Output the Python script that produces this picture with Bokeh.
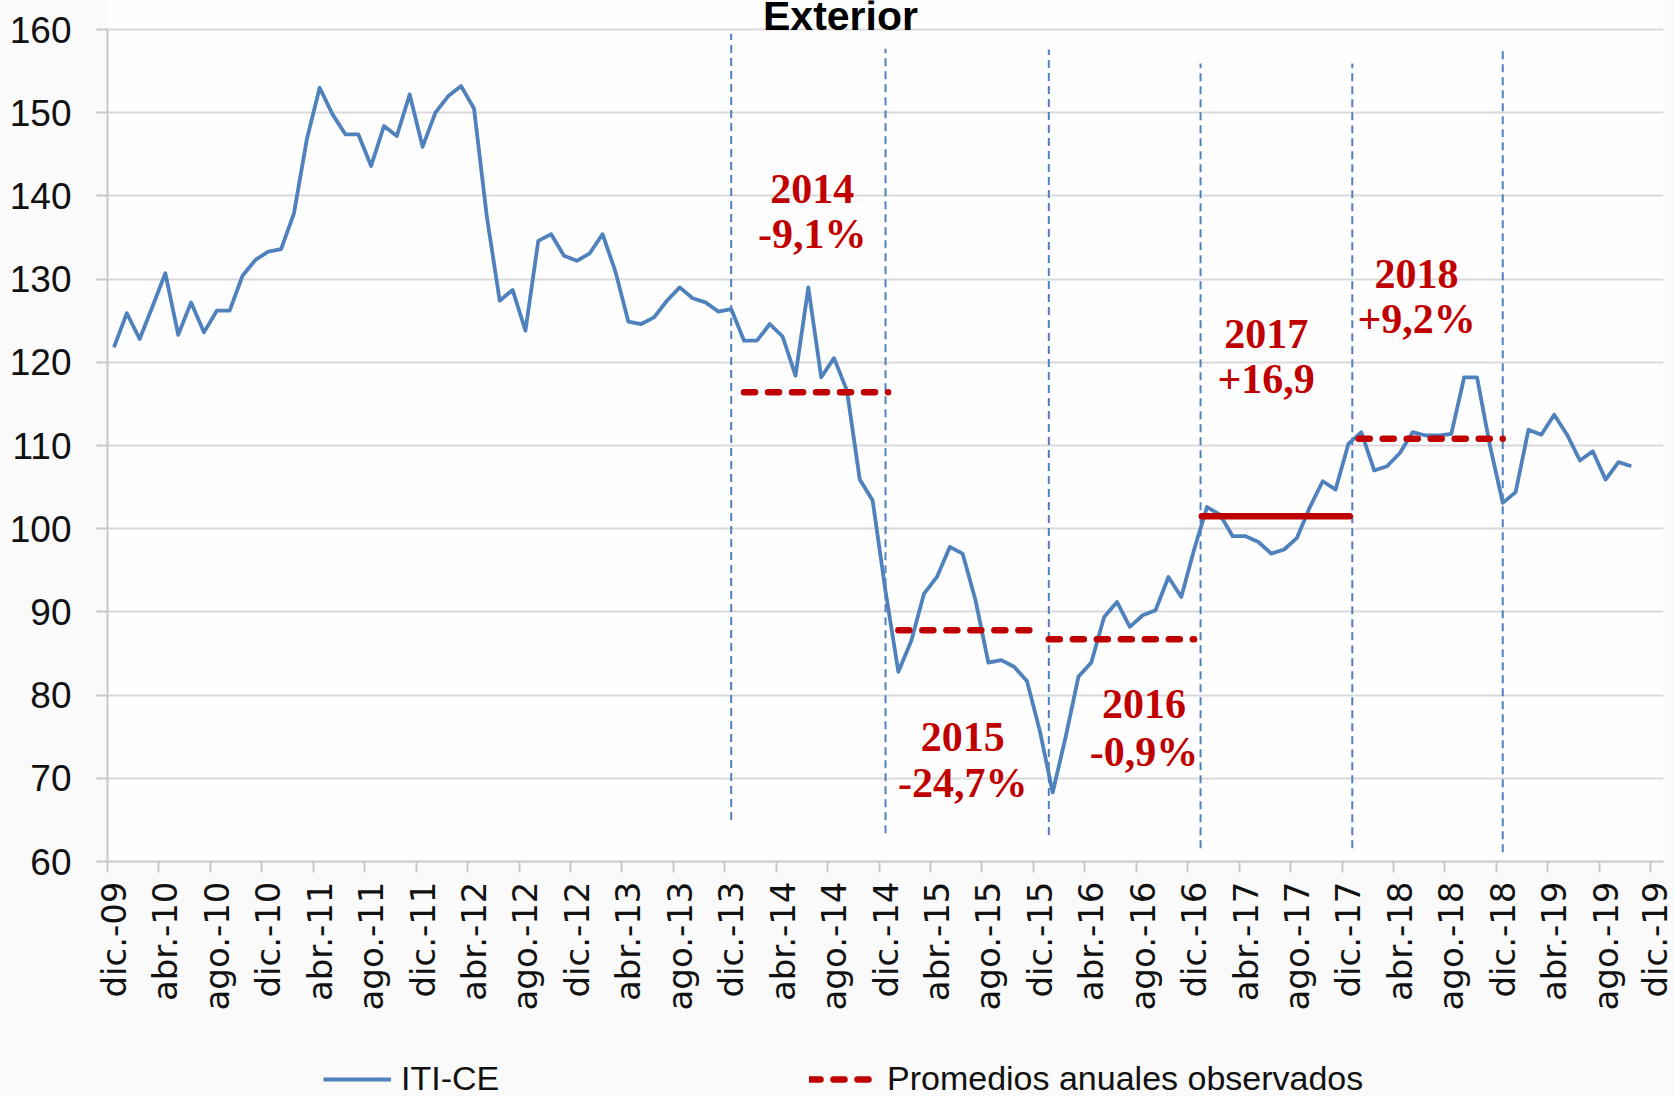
import math
from bokeh.plotting import figure
from bokeh.layouts import column
from bokeh.models import (Range1d, FixedTicker, Legend, LegendItem,
                          CustomJSTickFormatter, ColumnDataSource)
from bokeh.core.properties import value
from bokeh.embed import file_html
from bokeh.resources import INLINE

# ---------------- data ----------------
# Monthly ITI-CE index, from dic.-09 (index 0) to oct.-19 (index 118)
iti_ce = [
    121.8, 125.9, 122.8, 126.7, 130.7, 123.3, 127.2, 123.6, 126.2, 126.2,   # dic09-sep10
    130.4, 132.3, 133.3, 133.6, 137.9, 146.8, 153.0, 149.8, 147.4, 147.4,   # oct10-jul11
    143.6, 148.4, 147.2, 152.2, 145.9, 150.0, 152.0, 153.2, 150.5, 137.5,   # ago11-may12
    127.4, 128.7, 123.8, 134.6, 135.4, 132.8, 132.2, 133.1, 135.4, 130.9,   # jun12-mar13
    124.9, 124.6, 125.4, 127.4, 129.0, 127.7, 127.2, 126.1, 126.4, 122.6,   # abr13-ene14
    122.6, 124.6, 123.1, 118.4, 129.0, 118.2, 120.5, 116.6, 105.9, 103.4,   # feb14-nov14
    92.5, 82.8, 86.5, 92.2, 94.2, 97.8, 97.0, 91.4, 83.9, 84.2,             # dic14-sep15
    83.4, 81.7, 75.7, 68.3, 74.9, 82.2, 83.9, 89.4, 91.2, 88.2,             # oct15-jul16
    89.6, 90.2, 94.2, 91.8, 97.5, 102.6, 101.7, 99.1, 99.1, 98.4,           # ago16-may17
    97.0, 97.5, 98.9, 102.6, 105.7, 104.7, 110.2, 111.6, 107.0, 107.5,      # jun17-mar18
    109.1, 111.6, 111.2, 111.2, 111.4, 118.2, 118.2, 110.0, 103.1, 104.4,   # abr18-ene19
    111.9, 111.3, 113.7, 111.3, 108.2, 109.3, 105.9, 108.0, 107.5,          # feb19-oct19
]

tick_labels = ["dic.-09", "abr.-10", "ago.-10", "dic.-10", "abr.-11", "ago.-11",
               "dic.-11", "abr.-12", "ago.-12", "dic.-12", "abr.-13", "ago.-13",
               "dic.-13", "abr.-14", "ago.-14", "dic.-14", "abr.-15", "ago.-15",
               "dic.-15", "abr.-16", "ago.-16", "dic.-16", "abr.-17", "ago.-17",
               "dic.-17", "abr.-18", "ago.-18", "dic.-18", "abr.-19", "ago.-19",
               "dic.-19"]
y_ticks = [60, 70, 80, 90, 100, 110, 120, 130, 140, 150, 160]

# annual averages (month index span)
avg_years = ["2014", "2015", "2016", "2017", "2018"]
avg_values = [116.4, 87.8, 86.7, 101.5, 110.8]
avg_start = [49.0, 61.0, 72.7, 84.6, 96.8]
avg_end = [60.2, 72.1, 84.0, 96.1, 108.0]
avg_solid = [False, False, False, True, False]

# year annotations
anno_year = ["2014", "2015", "2016", "2017", "2018"]
anno_change = ["-9,1%", "-24,7%", "-0,9%", "+16,9", "+9,2%"]
anno_x = [54.3, 66.0, 80.1, 89.6, 101.3]
anno_y_year = [139.1, 73.3, 77.2, 121.7, 128.9]
anno_y_change = [133.7, 67.7, 71.5, 116.3, 123.5]

# vertical year dividers (month index, top, bottom)
div_x = [48.0, 60.0, 72.7, 84.5, 96.3, 108.0]
div_top = [159.5, 157.7, 157.6, 155.9, 155.9, 157.5]
div_bottom = [65.0, 63.4, 63.2, 61.6, 61.6, 61.1]

title_text = "Exterior"
title_x = 56.5
legend_labels = ["ITI-CE", "Promedios anuales observados"]

# ---------------- styling / geometry ----------------
BLUE = "#4f81bd"
RED = "#c00000"
SANS = "Liberation Sans"
SERIF = "Liberation Serif"
BG = "#fafafa"

W = 1674
FRAME_LEFT, FRAME_RIGHT_GAP = 107, 11
Y160_PX, Y60_PX = 29, 861            # pixel rows of the 160 and 60 gridlines
MAIN_H = 1030
LEG_H = 1096 - MAIN_H
px_per_unit = (Y60_PX - Y160_PX) / (y_ticks[-1] - y_ticks[0])
y_top = y_ticks[-1] + Y160_PX / px_per_unit   # extend the frame to the top edge
BASE_FIX = 14 / px_per_unit                   # alphabetic-baseline correction
LEGEND_PX = [323, 809]                        # page x of each legend sample

n_cat = 4 * (len(tick_labels) - 1) + 1
p = figure(width=W, height=MAIN_H, output_backend="svg", toolbar_location=None,
           x_range=Range1d(-0.5, n_cat - 0.5), y_range=Range1d(y_ticks[0], y_top),
           min_border_left=FRAME_LEFT, min_border_right=FRAME_RIGHT_GAP,
           min_border_top=0, min_border_bottom=MAIN_H - Y60_PX)
p.outline_line_color = None
p.border_fill_color = BG
p.background_fill_color = "#fefefe"

# axes
p.xaxis.ticker = FixedTicker(ticks=[4 * i for i in range(len(tick_labels))],
                             minor_ticks=[4 * i - 0.5 for i in range(len(tick_labels))])
p.xaxis.formatter = CustomJSTickFormatter(args=dict(labels=tick_labels), code="""
    const i = Math.round(tick / 4);
    if (Math.abs(tick - 4 * i) < 1e-6 && i >= 0 && i < labels.length) return labels[i];
    return '';
""")
p.xaxis.major_label_orientation = math.pi / 2
p.xaxis.major_tick_out = 0
p.xaxis.major_tick_in = 0
p.xaxis.minor_tick_out = 11
p.xaxis.minor_tick_in = 0
p.xaxis.minor_tick_line_color = "#c8c8c8"
p.xaxis.minor_tick_line_width = 2
p.xaxis.major_label_standoff = 9
p.xaxis.major_label_text_font = "DejaVu Sans"
p.xaxis.major_label_text_font_size = "34px"
p.xaxis.major_label_text_color = "#111111"

p.yaxis.ticker = FixedTicker(ticks=y_ticks)
p.yaxis.bounds = (y_ticks[0], y_ticks[-1])
p.yaxis.major_tick_out = 11
p.yaxis.major_tick_in = 0
p.yaxis.minor_tick_line_color = None
p.yaxis.major_tick_line_color = "#c8c8c8"
p.yaxis.major_tick_line_width = 2
p.yaxis.major_label_standoff = 25
p.yaxis.major_label_text_font = SANS
p.yaxis.major_label_text_font_size = "37px"
p.yaxis.major_label_text_color = "#111111"

for ax in (p.xaxis, p.yaxis):
    ax.axis_line_color = "#c8c8c8"
    ax.axis_line_width = 2

p.xgrid.grid_line_color = None
p.ygrid.grid_line_color = "#d9d9d9"
p.ygrid.grid_line_width = 2

# vertical dividers
p.segment(x0=div_x, y0=div_bottom, x1=div_x, y1=div_top, line_color=BLUE,
          line_width=2, line_dash="8 5")

# main series
p.line(x=list(range(len(iti_ce))), y=iti_ce, line_color=BLUE,
       line_width=3.8, line_join="round")

# annual averages
dash_idx = [i for i, s in enumerate(avg_solid) if not s]
solid_idx = [i for i, s in enumerate(avg_solid) if s]
p.segment(x0=[avg_start[i] for i in dash_idx], y0=[avg_values[i] for i in dash_idx],
          x1=[avg_end[i] for i in dash_idx], y1=[avg_values[i] for i in dash_idx],
          line_color=RED, line_width=6.5, line_dash="11 13", line_cap="round")
p.segment(x0=[avg_start[i] for i in solid_idx], y0=[avg_values[i] for i in solid_idx],
          x1=[avg_end[i] for i in solid_idx], y1=[avg_values[i] for i in solid_idx],
          line_color=RED, line_width=6.5, line_cap="round")

# annotations
anno_src = ColumnDataSource(dict(
    x=anno_x + anno_x,
    y=[v + BASE_FIX for v in anno_y_year + anno_y_change],
    t=anno_year + anno_change))
p.text(x="x", y="y", text="t", source=anno_src, text_font=value(SERIF),
       text_font_style="bold", text_font_size="42px", text_color=RED,
       text_align="center", text_baseline="alphabetic")

# title (sits on the top gridline)
p.text(x=[title_x], y=[y_ticks[-1] + BASE_FIX], text=[title_text], text_font=value(SANS),
       text_font_style="bold", text_font_size="41px", text_color="#000000",
       text_align="center", text_baseline="alphabetic")

# ---------------- legend strip ----------------
pl = figure(width=W, height=LEG_H, output_backend="svg", toolbar_location=None,
            x_range=Range1d(0, W), y_range=Range1d(0, LEG_H),
            x_axis_location=None, y_axis_location=None,
            min_border=0, min_border_left=0, min_border_right=0,
            min_border_top=0, min_border_bottom=0)
pl.grid.visible = False
pl.outline_line_color = None
pl.border_fill_color = BG
pl.background_fill_color = BG

r_blue = pl.line(x=[-100, -90], y=[-100, -100], line_color=BLUE, line_width=3.8)
r_red = pl.line(x=[-100, -90], y=[-100, -100], line_color=RED, line_width=6.5,
                line_dash="11 13", line_cap="round")

common = dict(orientation="horizontal", glyph_width=68, glyph_height=24,
              label_standoff=10, padding=0, margin=0, border_line_color=None,
              background_fill_alpha=0, label_text_font=SANS,
              label_text_font_size="34px", label_text_color="#111111")
# the column layout aligns this strip's frame with the main plot's frame
leg1 = Legend(items=[LegendItem(label=legend_labels[0], renderers=[r_blue])],
              location=(LEGEND_PX[0] - FRAME_LEFT, -2), **common)
leg2 = Legend(items=[LegendItem(label=legend_labels[1], renderers=[r_red])],
              location=(LEGEND_PX[1] - FRAME_LEFT, -2), **common)
pl.add_layout(leg1)
pl.add_layout(leg2)

layout = column(p, pl, spacing=0)
open("out.html", "w").write(file_html(layout, INLINE))
